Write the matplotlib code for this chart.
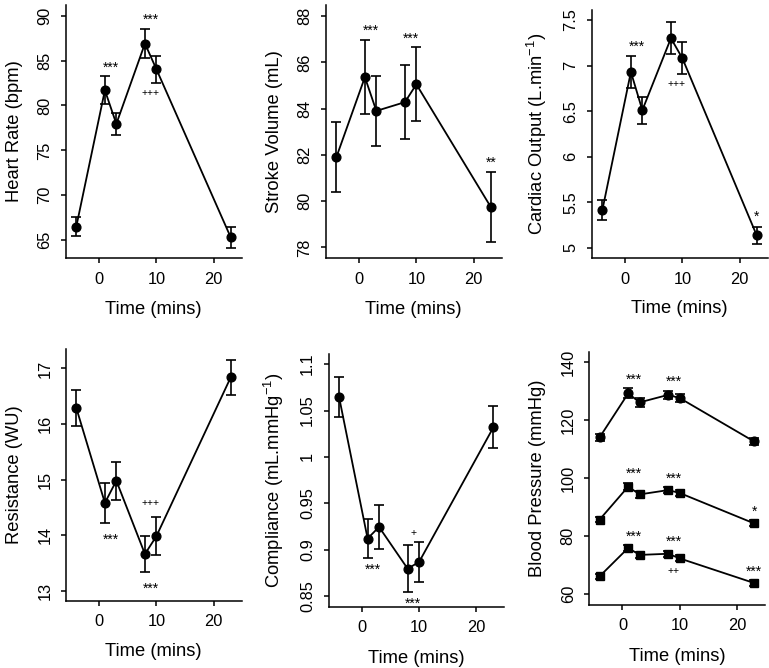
import numpy as np
import matplotlib
matplotlib.use("Agg")
import matplotlib.pyplot as plt
from matplotlib.ticker import FuncFormatter

plt.rcParams['font.family'] = ['Liberation Sans', 'DejaVu Sans']
plt.rcParams['mathtext.fontset'] = 'custom'
plt.rcParams['mathtext.rm'] = 'Liberation Sans'
plt.rcParams['mathtext.it'] = 'Liberation Sans'

# sampling times (mins)
time = [-4, 1, 3, 8, 10, 23]

# mean and SEM per panel
hr = [66.5, 81.7, 77.95, 86.9, 84.05, 65.3]
hr_err = [1.1, 1.55, 1.25, 1.6, 1.5, 1.15]

sv = [81.89, 85.36, 83.9, 84.28, 85.05, 79.75]
sv_err = [1.51, 1.6, 1.5, 1.6, 1.6, 1.53]

co = [5.41, 6.93, 6.51, 7.30, 7.08, 5.135]
co_err = [0.11, 0.18, 0.15, 0.175, 0.175, 0.095]

res = [16.29, 14.58, 14.98, 13.66, 13.98, 16.84]
res_err = [0.33, 0.36, 0.34, 0.33, 0.34, 0.31]

comp = [1.065, 0.912, 0.9245, 0.8795, 0.8867, 1.032]
comp_err = [0.0215, 0.021, 0.024, 0.025, 0.022, 0.0225]

sbp = [114.1, 129.3, 126.2, 128.8, 127.7, 112.7]
sbp_err = [1.2, 1.7, 1.5, 1.5, 1.5, 1.1]
mbp = [85.7, 97.1, 94.4, 95.9, 94.9, 84.4]
mbp_err = [1.0, 1.3, 1.1, 1.0, 1.0, 1.0]
dbp = [66.1, 75.9, 73.5, 73.9, 72.3, 63.8]
dbp_err = [0.9, 1.1, 1.0, 1.0, 1.0, 1.0]

# significance marks: (label, x, y)
hr_sig = [("***", 2, 84.7), ("***", 9, 90.0), ("+++", 9, 81.4)]
sv_sig = [("***", 2, 87.54), ("***", 9, 87.2), ("**", 23, 81.85)]
co_sig = [("***", 2, 7.25), ("***", 9, 7.64), ("+++", 9, 6.80), ("*", 23, 5.38)]
res_sig = [("***", 2, 13.99), ("+++", 9, 14.57), ("***", 9, 13.11)]
comp_sig = [("***", 2, 0.8824), ("+", 9, 0.918), ("***", 9, 0.8457)]
bp_sig = [("***", 2, 135.6), ("***", 9, 134.8), ("***", 2, 102.8), ("***", 9, 101.4),
          ("*", 23, 89.9), ("***", 2, 81.1), ("***", 9, 79.6), ("++", 9, 67.8), ("***", 23, 69.2)]

W, H = 769, 668
fig = plt.figure(figsize=(W / 100, H / 100), dpi=100)


def make_ax(left, top, right, bottom):
    return fig.add_axes([left / W, 1 - bottom / H, (right - left) / W, (bottom - top) / H])


def style(ax, ylim, yticks, ylabel):
    ax.set_xlim(-5.8, 24.9)
    ax.set_ylim(*ylim)
    ax.set_xticks([0, 10, 20])
    ax.set_yticks(yticks)
    ax.yaxis.set_major_formatter(FuncFormatter(lambda v, _: f"{v:g}"))
    for s in ("top", "right"):
        ax.spines[s].set_visible(False)
    for s in ("left", "bottom"):
        ax.spines[s].set_linewidth(1.1)
    ax.tick_params(direction="out", length=3.8, width=1.1, labelsize=11.8, pad=6)
    for lab in ax.get_yticklabels():
        lab.set_rotation(90)
        lab.set_va("center")
    ax.set_xlabel("Time (mins)", fontsize=13.2)
    ax.set_ylabel(ylabel, fontsize=13.2)
    ax.xaxis.set_label_coords(0.5, -0.17)
    ax.yaxis.set_label_coords(-0.245, 0.5)


def series(ax, y, e, marker="o"):
    ax.errorbar(time, y, yerr=e, fmt="-" + marker, color="k", ms=6.3, lw=1.3,
                elinewidth=1.2, capsize=3.3, capthick=1.2)


def marks(ax, sig):
    for lab, x, y in sig:
        dy = -3 if "*" in lab else 0
        fs = 10 if "*" in lab else 7.5
        ax.annotate(lab, (x, y), xytext=(0, dy), textcoords="offset points",
                    ha="center", va="center", fontsize=fs)


ax1 = make_ax(66, 5, 241.6, 258)
series(ax1, hr, hr_err)
style(ax1, (63.0, 91.2), [65, 70, 75, 80, 85, 90], "Heart Rate (bpm)")
marks(ax1, hr_sig)

ax2 = make_ax(326, 5, 501.6, 258)
series(ax2, sv, sv_err)
style(ax2, (77.54, 88.48), [78, 80, 82, 84, 86, 88], "Stroke Volume (mL)")
marks(ax2, sv_sig)

ax3 = make_ax(592, 10, 767.6, 258)
series(ax3, co, co_err)
style(ax3, (4.887, 7.61), [5, 5.5, 6, 6.5, 7, 7.5], r"Cardiac Output (L.min$^{-1}$)")
marks(ax3, co_sig)

ax4 = make_ax(66, 349, 241.6, 600.7)
series(ax4, res, res_err)
style(ax4, (12.82, 17.35), [13, 14, 15, 16, 17], "Resistance (WU)")
marks(ax4, res_sig)

ax5 = make_ax(328.7, 354, 504.3, 606.7)
series(ax5, comp, comp_err)
style(ax5, (0.8385, 1.111), [0.85, 0.9, 0.95, 1.0, 1.05, 1.1], r"Compliance (mL.mmHg$^{-1}$)")
marks(ax5, comp_sig)

ax6 = make_ax(589.3, 352.3, 764.9, 604.7)
series(ax6, sbp, sbp_err, "o")
series(ax6, mbp, mbp_err, "s")
series(ax6, dbp, dbp_err, "s")
style(ax6, (56.3, 143.5), [60, 80, 100, 120, 140], "Blood Pressure (mmHg)")
marks(ax6, bp_sig)

fig.savefig("out.png", dpi=100)
